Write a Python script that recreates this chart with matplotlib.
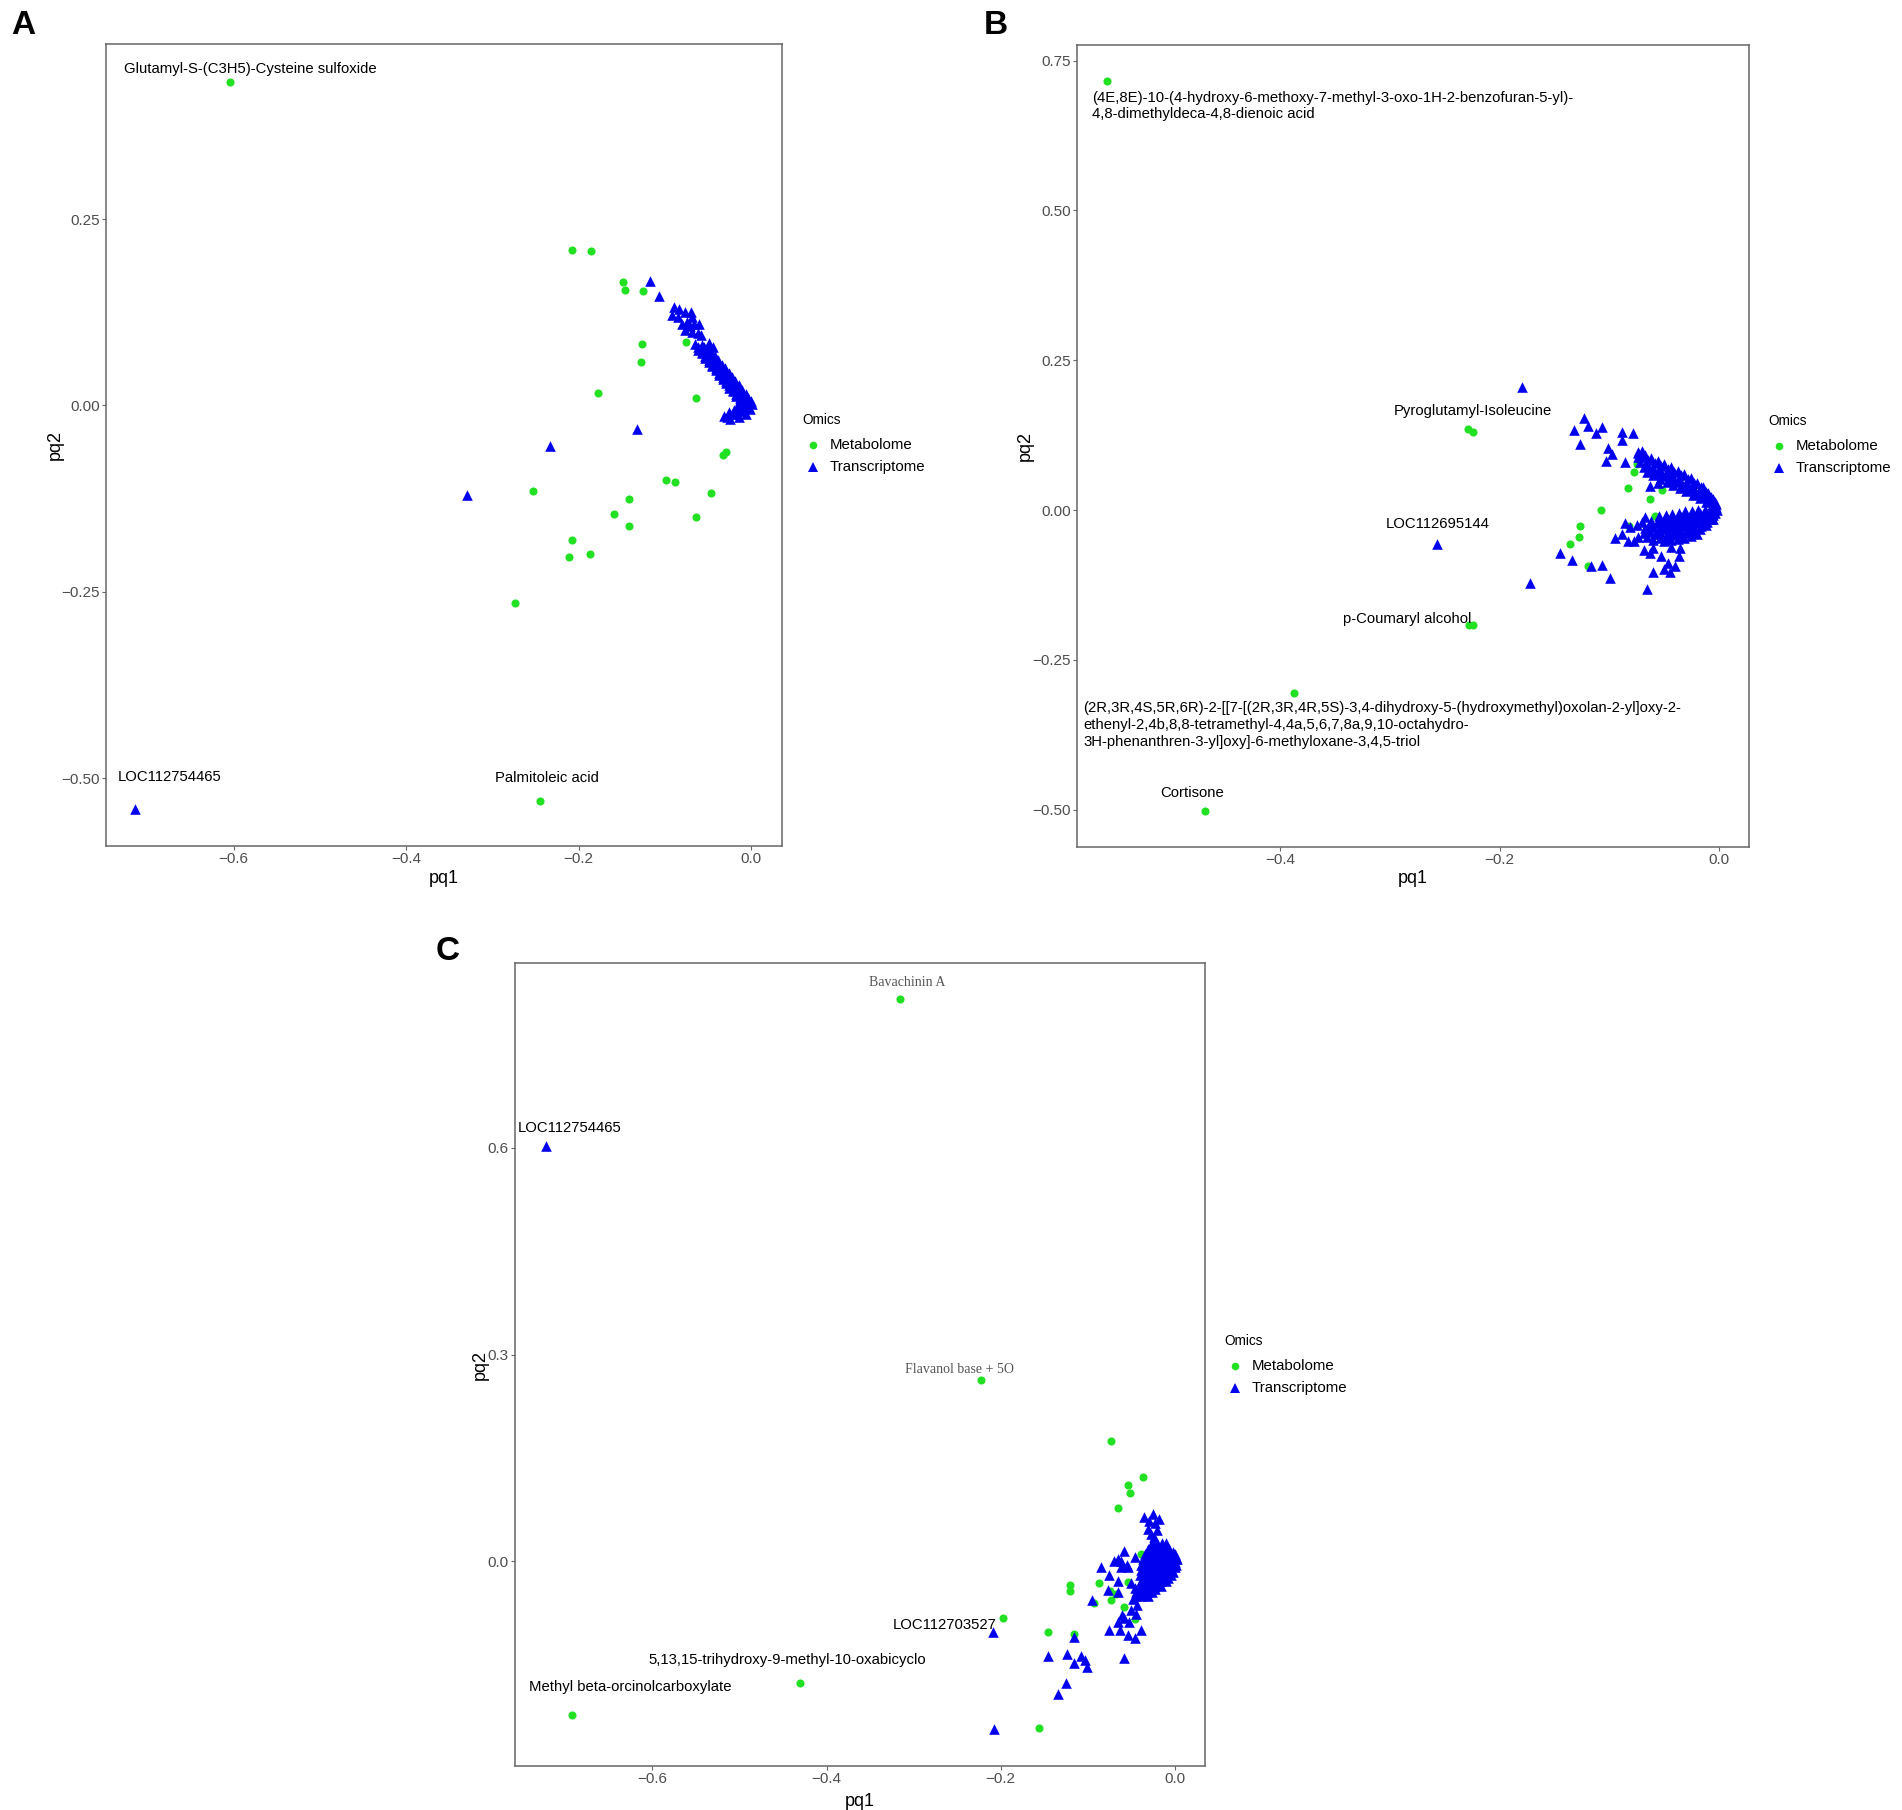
import numpy as np
import matplotlib
matplotlib.use("Agg")
import matplotlib.pyplot as plt
from matplotlib.lines import Line2D

plt.rcParams['font.family'] = ['Liberation Sans', 'DejaVu Sans']

# ---------------- data ----------------
# Panel A
a_met = [(-0.604, 0.434), (-0.207, 0.209), (-0.186, 0.207), (-0.148, 0.166), (-0.146, 0.155),
         (-0.125, 0.153), (-0.126, 0.082), (-0.128, 0.059), (-0.075, 0.085), (-0.177, 0.017),
         (-0.064, 0.010), (-0.029, -0.062), (-0.032, -0.067), (-0.099, -0.100), (-0.088, -0.102),
         (-0.046, -0.118), (-0.253, -0.115), (-0.142, -0.126), (-0.159, -0.146), (-0.142, -0.162),
         (-0.064, -0.150), (-0.207, -0.181), (-0.211, -0.203), (-0.187, -0.199), (-0.274, -0.265),
         (-0.245, -0.531)]
a_tr = [(-0.714, -0.542), (-0.329, -0.120), (-0.233, -0.055), (-0.132, -0.032), (-0.117, 0.167),
        (-0.107, 0.147),
        # upper scatter of the arm
        (-0.089, 0.132), (-0.083, 0.130), (-0.091, 0.121), (-0.085, 0.119), (-0.076, 0.126),
        (-0.070, 0.125), (-0.068, 0.119), (-0.080, 0.110), (-0.074, 0.112), (-0.071, 0.106),
        (-0.066, 0.110), (-0.060, 0.109), (-0.076, 0.101), (-0.068, 0.099), (-0.062, 0.097),
        (-0.058, 0.094), (-0.065, 0.082), (-0.057, 0.081), (-0.049, 0.084), (-0.044, 0.079),
        # dense arm
        (-0.055, 0.078), (-0.051, 0.072), (-0.047, 0.067), (-0.043, 0.061), (-0.039, 0.055),
        (-0.035, 0.050), (-0.031, 0.044), (-0.027, 0.038), (-0.023, 0.033), (-0.019, 0.027),
        (-0.015, 0.021), (-0.011, 0.016), (-0.007, 0.010), (-0.004, 0.006), (-0.002, 0.003),
        (-0.061, 0.078), (-0.057, 0.072), (-0.053, 0.067), (-0.049, 0.061), (-0.045, 0.055),
        (-0.041, 0.050), (-0.037, 0.044), (-0.033, 0.038), (-0.029, 0.033), (-0.025, 0.027),
        (-0.021, 0.021), (-0.017, 0.016), (-0.013, 0.010), (-0.010, 0.006), (-0.008, 0.003),
        (-0.050, 0.078), (-0.046, 0.072), (-0.042, 0.067), (-0.038, 0.061), (-0.034, 0.055),
        (-0.030, 0.050), (-0.026, 0.044), (-0.022, 0.038), (-0.018, 0.033), (-0.014, 0.027),
        (-0.010, 0.021), (-0.006, 0.016), (-0.003, 0.010), (0.000, 0.006), (0.001, 0.002),
        (-0.061, 0.075), (-0.057, 0.070), (-0.053, 0.064), (-0.049, 0.058), (-0.045, 0.053),
        (-0.041, 0.047), (-0.037, 0.041), (-0.033, 0.036), (-0.029, 0.030), (-0.025, 0.024),
        (-0.021, 0.019), (-0.017, 0.013), (-0.013, 0.008), (-0.009, 0.003),
        (-0.051, 0.075), (-0.047, 0.070), (-0.043, 0.064), (-0.039, 0.058), (-0.035, 0.053),
        (-0.031, 0.047), (-0.027, 0.041), (-0.023, 0.036), (-0.019, 0.030), (-0.015, 0.024),
        (-0.011, 0.019), (-0.007, 0.013), (-0.004, 0.008), (-0.002, 0.003),
        # bottom tail
        (-0.031, -0.014), (-0.024, -0.018), (-0.014, -0.016), (-0.006, -0.012), (-0.001, -0.005),
        (-0.026, -0.009), (-0.020, -0.006), (-0.012, -0.004), (-0.018, -0.012), (-0.009, -0.008),
        (-0.016, -0.002), (-0.022, -0.011), (-0.028, -0.016), (-0.004, -0.002), (-0.010, -0.001)]
a_labels = [("Glutamyl-S-(C3H5)-Cysteine sulfoxide", -0.604, 0.434),
            ("LOC112754465", -0.714, -0.542),
            ("Palmitoleic acid", -0.245, -0.531)]

# Panel B
b_met = [(-0.558, 0.716), (-0.2285, 0.135), (-0.224, 0.131), (-0.228, -0.192), (-0.2246, -0.192),
         (-0.387, -0.305), (-0.468, -0.502),
         (-0.075, 0.077), (-0.078, 0.064), (-0.083, 0.037), (-0.052, 0.034), (-0.063, 0.018),
         (-0.108, 0.000), (-0.059, -0.010), (-0.127, -0.027), (-0.128, -0.044), (-0.136, -0.057),
         (-0.120, -0.093), (-0.082, -0.026)]
b_tr = [(-0.257, -0.056), (-0.180, 0.205), (-0.172, -0.122), (-0.145, -0.071), (-0.134, -0.083),
        (-0.117, -0.093), (-0.107, -0.092), (-0.066, -0.132),
        # upper scatter
        (-0.123, 0.154), (-0.120, 0.141), (-0.132, 0.133), (-0.107, 0.139), (-0.112, 0.128),
        (-0.127, 0.111), (-0.089, 0.130), (-0.079, 0.129), (-0.089, 0.117), (-0.101, 0.104),
        (-0.098, 0.093), (-0.103, 0.082), (-0.086, 0.081), (-0.074, 0.096), (-0.070, 0.099),
        (-0.074, 0.088), (-0.063, 0.041), (-0.056, 0.046),
        # upper arm
        (-0.074, 0.097), (-0.068, 0.092), (-0.062, 0.087), (-0.056, 0.082), (-0.050, 0.077),
        (-0.044, 0.072), (-0.038, 0.066), (-0.032, 0.060), (-0.026, 0.053), (-0.020, 0.046),
        (-0.015, 0.038), (-0.010, 0.028), (-0.006, 0.019), (-0.003, 0.010),
        (-0.071, 0.089), (-0.065, 0.084), (-0.059, 0.079), (-0.053, 0.074), (-0.047, 0.069),
        (-0.041, 0.064), (-0.035, 0.058), (-0.029, 0.052), (-0.023, 0.046), (-0.017, 0.039),
        (-0.012, 0.031), (-0.008, 0.022), (-0.004, 0.013),
        (-0.072, 0.080), (-0.066, 0.076), (-0.060, 0.071), (-0.054, 0.066), (-0.048, 0.061),
        (-0.042, 0.056), (-0.036, 0.050), (-0.030, 0.045), (-0.024, 0.039), (-0.018, 0.032),
        (-0.012, 0.024), (-0.007, 0.015), (-0.003, 0.006),
        (-0.069, 0.072), (-0.063, 0.067), (-0.057, 0.062), (-0.051, 0.057), (-0.045, 0.052),
        (-0.039, 0.047), (-0.033, 0.041), (-0.027, 0.035), (-0.021, 0.029), (-0.015, 0.022),
        (-0.010, 0.015), (-0.005, 0.009),
        (-0.066, 0.064), (-0.060, 0.058), (-0.054, 0.052), (-0.048, 0.047), (-0.042, 0.042),
        (-0.036, 0.037), (-0.030, 0.032), (-0.024, 0.026), (-0.018, 0.020), (-0.012, 0.014),
        (-0.007, 0.008), (-0.003, 0.002),
        # lower arm
        (-0.055, -0.010), (-0.049, -0.008), (-0.043, -0.006), (-0.037, -0.004), (-0.031, -0.002),
        (-0.025, -0.001), (-0.019, 0.000), (-0.013, 0.001), (-0.007, 0.001), (-0.002, 0.000),
        (-0.054, -0.016), (-0.048, -0.014), (-0.042, -0.012), (-0.036, -0.010), (-0.030, -0.008),
        (-0.024, -0.006), (-0.018, -0.005), (-0.012, -0.003), (-0.006, -0.002),
        (-0.057, -0.022), (-0.051, -0.020), (-0.045, -0.018), (-0.039, -0.016), (-0.033, -0.014),
        (-0.027, -0.012), (-0.021, -0.010), (-0.015, -0.008), (-0.009, -0.006), (-0.004, -0.004),
        (-0.060, -0.028), (-0.054, -0.028), (-0.047, -0.025), (-0.041, -0.023), (-0.035, -0.021),
        (-0.029, -0.019), (-0.023, -0.016), (-0.017, -0.013), (-0.011, -0.010), (-0.006, -0.008),
        (-0.056, -0.034), (-0.050, -0.032), (-0.044, -0.030), (-0.038, -0.029), (-0.032, -0.027),
        (-0.026, -0.025), (-0.020, -0.022), (-0.014, -0.018), (-0.008, -0.014),
        (-0.059, -0.040), (-0.053, -0.040), (-0.047, -0.037), (-0.041, -0.036), (-0.035, -0.034),
        (-0.029, -0.032), (-0.023, -0.030), (-0.017, -0.026), (-0.011, -0.020), (-0.006, -0.014),
        (-0.054, -0.046), (-0.048, -0.044), (-0.042, -0.042), (-0.036, -0.040), (-0.030, -0.038),
        (-0.024, -0.036), (-0.018, -0.031), (-0.012, -0.025),
        (-0.050, -0.052), (-0.044, -0.050), (-0.038, -0.048), (-0.032, -0.046), (-0.026, -0.043),
        (-0.020, -0.040),
        (-0.064, -0.024), (-0.070, -0.020), (-0.063, -0.036), (-0.069, -0.038), (-0.060, -0.050),
        # lower scatter
        (-0.069, -0.066), (-0.060, -0.063), (-0.044, -0.061), (-0.036, -0.063), (-0.063, -0.071),
        (-0.053, -0.077), (-0.037, -0.077), (-0.047, -0.088), (-0.040, -0.093), (-0.050, -0.099),
        (-0.045, -0.104), (-0.060, -0.104), (-0.100, -0.114), (-0.095, -0.047), (-0.089, -0.039),
        (-0.081, -0.028), (-0.075, -0.025), (-0.086, -0.022), (-0.068, -0.030), (-0.074, -0.044),
        (-0.066, -0.044), (-0.078, -0.052), (-0.083, -0.052), (-0.062, -0.018), (-0.068, -0.012)]
b_labels = [("(4E,8E)-10-(4-hydroxy-6-methoxy-7-methyl-3-oxo-1H-2-benzofuran-5-yl)-\n"
             "4,8-dimethyldeca-4,8-dienoic acid", -0.558, 0.716),
            ("Pyroglutamyl-Isoleucine", -0.226, 0.133),
            ("LOC112695144", -0.257, -0.056),
            ("p-Coumaryl alcohol", -0.226, -0.192),
            ("(2R,3R,4S,5R,6R)-2-[[7-[(2R,3R,4R,5S)-3,4-dihydroxy-5-(hydroxymethyl)oxolan-2-yl]oxy-2-\n"
             "ethenyl-2,4b,8,8-tetramethyl-4,4a,5,6,7,8a,9,10-octahydro-\n"
             "3H-phenanthren-3-yl]oxy]-6-methyloxane-3,4,5-triol", -0.387, -0.305),
            ("Cortisone", -0.468, -0.502)]

# Panel C
c_met = [(-0.316, 0.816), (-0.2225, 0.263), (-0.197, -0.083), (-0.430, -0.176), (-0.692, -0.2225),
         (-0.156, -0.242), (-0.073, 0.174), (-0.036, 0.122), (-0.054, 0.110), (-0.051, 0.099),
         (-0.065, 0.078), (-0.039, 0.010), (-0.120, -0.035), (-0.120, -0.043), (-0.087, -0.032),
         (-0.074, -0.043), (-0.067, -0.047), (-0.073, -0.056), (-0.058, -0.066), (-0.045, -0.084),
         (-0.054, -0.030), (-0.043, -0.052), (-0.116, -0.105), (-0.093, -0.061), (-0.145, -0.102)]
c_tr = [(-0.7226, 0.6025), (-0.209, -0.103), (-0.208, -0.243), (-0.145, -0.137), (-0.124, -0.135),
        (-0.115, -0.147), (-0.108, -0.137), (-0.103, -0.143), (-0.101, -0.153), (-0.125, -0.177),
        (-0.134, -0.192), (-0.115, -0.110), (-0.058, -0.141), (-0.095, -0.056),
        # left side / tail
        (-0.075, -0.020), (-0.077, -0.041), (-0.065, -0.029), (-0.061, -0.009), (-0.065, 0.003),
        (-0.061, 0.001), (-0.055, -0.005), (-0.046, 0.006), (-0.054, -0.009), (-0.050, -0.031),
        (-0.065, -0.044), (-0.046, -0.039), (-0.048, -0.054), (-0.043, -0.063), (-0.050, -0.071),
        (-0.044, -0.076), (-0.060, -0.078), (-0.065, -0.088), (-0.058, -0.083), (-0.052, -0.088),
        (-0.075, -0.100), (-0.063, -0.100), (-0.054, -0.107), (-0.039, -0.100), (-0.046, -0.112),
        (-0.070, 0.001), (-0.084, -0.009), (-0.058, 0.015),
        # upper tail
        (-0.035, 0.064), (-0.025, 0.069), (-0.029, 0.058), (-0.031, 0.047), (-0.024, 0.035),
        (-0.022, 0.055), (-0.020, 0.045), (-0.027, 0.040), (-0.018, 0.062),
        # dense core
        (-0.026, 0.026), (-0.020, 0.026), (-0.014, 0.026), (-0.010, 0.026),
        (-0.027, 0.022), (-0.021, 0.022), (-0.015, 0.022), (-0.009, 0.022),
        (-0.030, 0.018), (-0.024, 0.018), (-0.018, 0.018), (-0.012, 0.018), (-0.006, 0.018),
        (-0.031, 0.014), (-0.025, 0.014), (-0.019, 0.014), (-0.013, 0.014), (-0.007, 0.014),
        (-0.002, 0.014),
        (-0.034, 0.010), (-0.028, 0.010), (-0.022, 0.010), (-0.016, 0.010), (-0.010, 0.010),
        (-0.004, 0.010), (0.001, 0.010),
        (-0.033, 0.0065), (-0.027, 0.0065), (-0.021, 0.0065), (-0.015, 0.0065), (-0.009, 0.0065),
        (-0.003, 0.0065), (0.002, 0.0065),
        (-0.036, 0.003), (-0.030, 0.003), (-0.024, 0.003), (-0.018, 0.003), (-0.012, 0.003),
        (-0.006, 0.003), (0.000, 0.003), (0.003, 0.003),
        (-0.035, -0.001), (-0.029, -0.001), (-0.023, -0.001), (-0.017, -0.001), (-0.011, -0.001),
        (-0.005, -0.001), (0.001, -0.001),
        (-0.038, -0.005), (-0.032, -0.005), (-0.026, -0.005), (-0.020, -0.005), (-0.014, -0.005),
        (-0.008, -0.005), (-0.002, -0.005), (0.002, -0.005),
        (-0.036, -0.0085), (-0.030, -0.0085), (-0.024, -0.0085), (-0.018, -0.0085),
        (-0.012, -0.0085), (-0.006, -0.0085), (0.000, -0.0085),
        (-0.039, -0.012), (-0.033, -0.012), (-0.027, -0.012), (-0.021, -0.012), (-0.015, -0.012),
        (-0.009, -0.012), (-0.003, -0.012),
        (-0.037, -0.016), (-0.031, -0.016), (-0.025, -0.016), (-0.019, -0.016), (-0.013, -0.016),
        (-0.007, -0.016), (-0.002, -0.016),
        (-0.040, -0.020), (-0.034, -0.020), (-0.028, -0.020), (-0.022, -0.020), (-0.016, -0.020),
        (-0.010, -0.020), (-0.004, -0.020),
        (-0.036, -0.024), (-0.030, -0.024), (-0.024, -0.024), (-0.018, -0.024), (-0.012, -0.024),
        (-0.007, -0.024),
        (-0.039, -0.028), (-0.033, -0.028), (-0.027, -0.028), (-0.021, -0.028), (-0.015, -0.028),
        (-0.010, -0.028),
        (-0.037, -0.032), (-0.031, -0.032), (-0.025, -0.032), (-0.019, -0.032),
        (-0.040, -0.036), (-0.034, -0.036), (-0.028, -0.036), (-0.022, -0.036), (-0.015, -0.036),
        (-0.041, -0.040), (-0.035, -0.040), (-0.029, -0.040), (-0.023, -0.040),
        (-0.044, -0.044), (-0.038, -0.044), (-0.032, -0.044), (-0.026, -0.044),
        (-0.045, -0.051), (-0.039, -0.051), (-0.031, -0.051)]
c_labels = [("Bavachinin A", -0.316, 0.816),
            ("LOC112754465", -0.7226, 0.6025),
            ("Flavanol base + 5O", -0.2225, 0.263),
            ("LOC112703527", -0.209, -0.103),
            ("5,13,15-trihydroxy-9-methyl-10-oxabicyclo", -0.430, -0.176),
            ("Methyl beta-orcinolcarboxylate", -0.692, -0.2225)]

a_xticks, a_yticks = [-0.6, -0.4, -0.2, 0.0], [-0.50, -0.25, 0.00, 0.25]
b_xticks, b_yticks = [-0.4, -0.2, 0.0], [-0.50, -0.25, 0.00, 0.25, 0.50, 0.75]
c_xticks, c_yticks = [-0.6, -0.4, -0.2, 0.0], [0.0, 0.3, 0.6]

# ---------------- style / layout ----------------
W, H = 1902, 1810
GREEN = '#22E022'
BLUE = '#0000EE'
FRAME = '#666666'
TICKTXT = '#4D4D4D'


def fx(px):
    return px / W


def fy(py):
    return 1 - py / H


def fmt(v, nd):
    s = f"{v:.{nd}f}"
    if float(s) == 0:
        s = s.lstrip('-')
    return s.replace('-', '\u2212')


def draw_panel(box, title_pos, xlim, ylim, xt, yt, nd_y, met, tr, labels, offsets, serif=()):
    l, t, r, b = box
    ax = fig.add_axes([fx(l), fy(b), fx(r) - fx(l), fy(t) - fy(b)])
    m = np.array(met)
    ta = np.array(tr)
    ax.scatter(m[:, 0], m[:, 1], s=34, marker='o', color=GREEN, linewidths=0, zorder=3)
    ax.scatter(ta[:, 0], ta[:, 1], s=58, marker='^', color=BLUE, linewidths=0, zorder=3)
    ax.set_xlim(xlim)
    ax.set_ylim(ylim)
    ax.set_xticks(xt)
    ax.set_xticklabels([fmt(v, 1) for v in xt])
    ax.set_yticks(yt)
    ax.set_yticklabels([fmt(v, nd_y) for v in yt])
    ax.tick_params(direction='out', length=3, width=0.8, color=FRAME,
                   labelsize=11, labelcolor=TICKTXT, pad=1.5)
    for sp in ax.spines.values():
        sp.set_color(FRAME)
        sp.set_linewidth(1.1)
    ax.set_xlabel('pq1', fontsize=13)
    ax.set_ylabel('pq2', fontsize=13)
    ylab_x, xlab_y = title_pos
    ax.yaxis.set_label_coords((ylab_x - l) / (r - l), 0.5)
    ax.xaxis.set_label_coords(0.5, -(xlab_y - b) / (b - t))
    ax.xaxis.label.set_va('center')
    ax.yaxis.label.set_va('center')
    for (txt, x, y), (dx, dy, ha) in zip(labels, offsets):
        kw = dict(fontsize=10.7, color='black')
        if txt in serif:
            kw = dict(fontsize=10, color='#555555', family=['Liberation Serif', 'DejaVu Serif'])
        ax.annotate(txt, (x, y), xytext=(dx, dy), textcoords='offset pixels',
                    ha=ha, va='center', multialignment='left', annotation_clip=False,
                    linespacing=1.25, **kw)
    return ax


def draw_legend(x0, y0):
    fig.text(fx(x0), fy(y0), 'Omics', fontsize=9.8, ha='left', va='center')
    for i, (lab, mk, col, ms) in enumerate([('Metabolome', 'o', GREEN, 5.5),
                                           ('Transcriptome', '^', BLUE, 6.5)]):
        yy = y0 + 25 + 22 * i
        fig.add_artist(Line2D([fx(x0 + 11)], [fy(yy)], marker=mk, color=col, ms=ms,
                              markeredgewidth=0, linestyle='none', transform=fig.transFigure))
        fig.text(fx(x0 + 28), fy(yy), lab, fontsize=10.8, ha='left', va='center')


fig = plt.figure(figsize=(W / 100, H / 100), dpi=100)

a_off = [(20, 13, 'center'), (34, 32, 'center'), (7, 23, 'center')]
draw_panel((106, 44, 782, 846), (55, 878), (-0.748, 0.036), (-0.591, 0.485),
           a_xticks, a_yticks, 2, a_met, a_tr, a_labels, a_off)

b_off = [(-15, -25, 'left'), (2, 19, 'center'), (1, 20, 'center'), (-64, 6, 'center'),
         (-211, -32, 'left'), (-13, 18, 'center')]
draw_panel((1077, 45, 1749, 847), (1025, 878), (-0.585, 0.027), (-0.562, 0.776),
           b_xticks, b_yticks, 2, b_met, b_tr, b_labels, b_off)

c_off = [(8, 16, 'center'), (24, 18, 'center'), (-21, 11, 'center'), (-48, 7, 'center'),
         (-13, 23, 'center'), (58, 28, 'center')]
draw_panel((515, 963, 1205, 1766), (480, 1801), (-0.758, 0.035), (-0.297, 0.868),
           c_xticks, c_yticks, 1, c_met, c_tr, c_labels, c_off,
           serif=("Bavachinin A", "Flavanol base + 5O"))

draw_legend(802, 420)
draw_legend(1768, 421)
draw_legend(1224, 1341)

for lett, x, y in [('A', 23, 26), ('B', 996, 26), ('C', 448, 951)]:
    fig.text(fx(x), fy(y), lett, fontsize=24, fontweight='bold', ha='center', va='center')

fig.savefig('out.png', dpi=100, facecolor='white')
